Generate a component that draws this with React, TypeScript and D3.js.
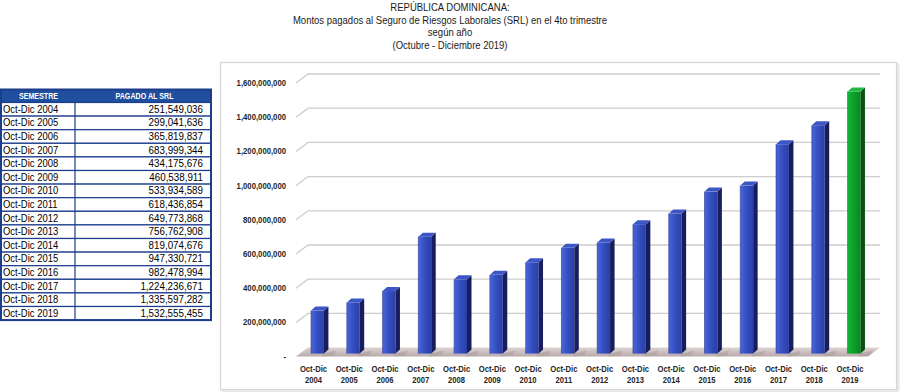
import React from "react";
import * as d3 from "d3";

const categories = ["2004","2005","2006","2007","2008","2009","2010","2011","2012","2013","2014","2015","2016","2017","2018","2019"];
const values = [251549036,299041636,365819837,683999344,434175676,460538911,533934589,618436854,649773868,756762908,819074676,947330721,982478994,1224236671,1335597282,1532555455];
const yTicks = [0,200000000,400000000,600000000,800000000,1000000000,1200000000,1400000000,1600000000];
const titleLines = ["REPÚBLICA DOMINICANA:", "Montos pagados al Seguro de Riesgos Laborales (SRL) en el 4to trimestre", "según año", "(Octubre - Diciembre 2019)"];
const tableHeaders = ["SEMESTRE", "PAGADO AL SRL"];
const catPrefix = "Oct-Dic";

const FONT = "'Liberation Sans', Arial, sans-serif";

type TProps = { x: number; y: number; sx?: number; anchor?: string; size: number; weight?: string; fill?: string; children: React.ReactNode };
function T({ x, y, sx = 0.86, anchor = "start", size, weight = "normal", fill = "#1a1a1a", children }: TProps) {
  return (
    <text transform={`translate(${x},${y}) scale(${sx},1)`} textAnchor={anchor} fontSize={size} fontWeight={weight} fill={fill}>
      {children}
    </text>
  );
}

export default function App() {
  const W = 900, H = 392;
  const backX0 = 308, backX1 = 880, ddx = -12, ddy = 9;
  const y = d3.scaleLinear().domain([0, 1600000000]).range([347.6, 74]);
  const xBar = d3.scaleBand<string>().domain(categories).range([299.6, 871.9]).paddingInner(0.64).paddingOuter(0.32);
  const fmt = d3.format(",");
  const bw = xBar.bandwidth();
  const bdx = 4.5, bdy = 4;
  const y0 = y(0);

  const rowH = 13.6, headTop = 89.5, headH = 13, tableW = 210, colDiv = 75;
  const rowsTop = headTop + headH;

  return (
    <svg width={W} height={H} style={{ position: "absolute", left: 0, top: 0, background: "#fff" }} fontFamily={FONT}>
      <defs>
        <linearGradient id="blueFront" x1="0" x2="1" y1="0" y2="0">
          <stop offset="0" stopColor="#4a66d8" />
          <stop offset="0.45" stopColor="#3550c2" />
          <stop offset="1" stopColor="#2a3ea6" />
        </linearGradient>
        <linearGradient id="greenFront" x1="0" x2="1" y1="0" y2="0">
          <stop offset="0" stopColor="#14b83a" />
          <stop offset="0.5" stopColor="#0a9e28" />
          <stop offset="1" stopColor="#078a20" />
        </linearGradient>
        <linearGradient id="floorG" x1="0" x2="0" y1="0" y2="1">
          <stop offset="0" stopColor="#ddd3d3" />
          <stop offset="1" stopColor="#b9aaaa" />
        </linearGradient>
        <filter id="shadow" x="-5%" y="-5%" width="110%" height="110%">
          <feDropShadow dx="1.5" dy="1.5" stdDeviation="1.2" floodColor="#000" floodOpacity="0.18" />
        </filter>
      </defs>

      {/* Title */}
      {titleLines.map((t, i) => (
        <T key={i} x={450} y={11 + i * 12.5} anchor="middle" size={11} sx={0.865}>{t}</T>
      ))}

      {/* Chart frame */}
      <rect x={220.5} y={62.5} width={676} height={327} fill="#fff" stroke="#d6d6d6" strokeWidth={1.2} filter="url(#shadow)" />

      {/* Gridlines */}
      {yTicks.filter(t => t > 0).map(t => (
        <polyline key={t} points={`${backX0 + ddx},${y(t) + ddy} ${backX0},${y(t)} ${backX1},${y(t)}`} fill="none" stroke="#cfcccc" strokeWidth={1.3} />
      ))}

      {/* Floor */}
      <polygon points={`${backX0 + ddx},${y0 + ddy} ${backX0},${y0} ${backX1},${y0} ${backX1 + ddx},${y0 + ddy}`} fill="url(#floorG)" />
      {/* Bar shadows on floor */}
      {categories.map((c) => {
        const x = xBar(c)!;
        return <polygon key={"s" + c} points={`${x + bw},${y0 + 6} ${x + bw + 12},${y0 + 3} ${x + bw + 10},${y0 + 8} ${x + bw - 2},${y0 + 9}`} fill="#9a8c8c" opacity={0.35} />;
      })}

      {/* Y labels */}
      {yTicks.map(t => (
        <T key={t} x={286} y={y(t) + ddy + 3} anchor="end" size={9} weight="bold" fill="#262626">{t === 0 ? "-" : fmt(t)}</T>
      ))}

      {/* Bars */}
      {categories.map((c, i) => {
        const x = xBar(c)!;
        const yt = y(values[i]) + 6;
        const yb = y0 + 6;
        const last = i === categories.length - 1;
        const side = last ? "#05520f" : "#181d5e";
        const top = last ? "#22b845" : "#3d56c6";
        return (
          <g key={c}>
            <rect x={x} y={yt} width={bw} height={yb - yt} fill={last ? "url(#greenFront)" : "url(#blueFront)"} />
            <polygon points={`${x + bw},${yt} ${x + bw + bdx},${yt - bdy} ${x + bw + bdx},${yb - bdy} ${x + bw},${yb}`} fill={side} />
            <polygon points={`${x},${yt} ${x + bdx},${yt - bdy} ${x + bw + bdx},${yt - bdy} ${x + bw},${yt}`} fill={top} />
            <line x1={x} x2={x} y1={yt} y2={yb} stroke={last ? "#0b7a20" : "#263591"} strokeWidth={0.6} />
          </g>
        );
      })}

      {/* X labels */}
      {categories.map(c => {
        const cx = xBar(c)! + bw / 2 - 4;
        return (
          <g key={"l" + c}>
            <T x={cx} y={372} anchor="middle" size={9} weight="bold" fill="#262626" sx={0.85}>{catPrefix}</T>
            <T x={cx} y={383} anchor="middle" size={9} weight="bold" fill="#262626" sx={0.85}>{c}</T>
          </g>
        );
      })}

      {/* Table */}
      <rect x={1} y={headTop} width={tableW} height={headH} fill="#1f4f9e" />
      <T x={colDiv / 2 + 1} y={headTop + 9.5} anchor="middle" size={8.5} weight="bold" fill="#fff" sx={0.84}>{tableHeaders[0]}</T>
      <T x={(colDiv + tableW) / 2 + 2} y={headTop + 9.5} anchor="middle" size={8.5} weight="bold" fill="#fff" sx={0.84}>{tableHeaders[1]}</T>
      {categories.map((c, i) => {
        const ry = rowsTop + i * rowH;
        return (
          <g key={"r" + c}>
            <rect x={1} y={ry} width={tableW} height={rowH} fill="#fff" stroke="#1c3c8c" strokeWidth={1.2} />
            <line x1={colDiv} x2={colDiv} y1={ry} y2={ry + rowH} stroke="#1c3c8c" strokeWidth={1.2} />
            <T x={3} y={ry + 10.3} size={11} fill="#000" sx={0.86}>{catPrefix + " " + c}</T>
            <T x={203} y={ry + 10.3} anchor="end" size={11} fill="#000" sx={0.89}>{fmt(values[i])}</T>
          </g>
        );
      })}
      <rect x={1} y={headTop} width={tableW} height={headH + rowH * categories.length} fill="none" stroke="#1c3c8c" strokeWidth={2} />
    </svg>
  );
}
